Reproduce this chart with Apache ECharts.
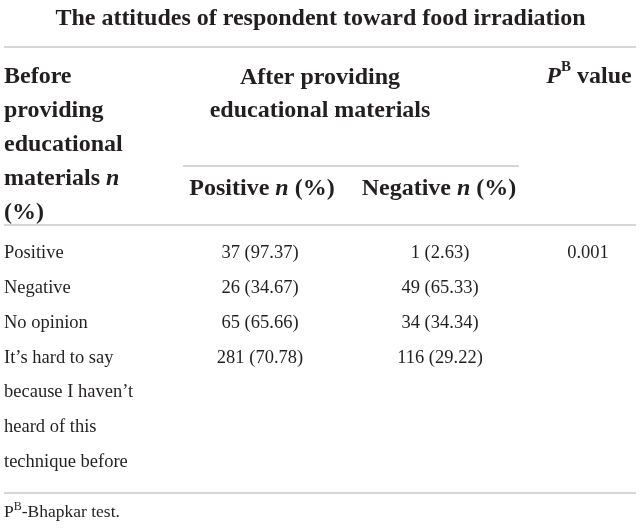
<!DOCTYPE html>
<html>
<head>
<meta charset="utf-8">
<title>Attitudes toward food irradiation</title>
<script src="https://cdn.jsdelivr.net/npm/echarts@6/dist/echarts.min.js"></script>
<style>
html, body { margin: 0; padding: 0; background: #fff; }
#main { width: 641px; height: 531px; }
</style>
</head>
<body>
<div id="main"></div>
<script>
// table values
var rowLabels = ['Positive', 'Negative', 'No opinion',
    'It\u2019s hard to say\nbecause I haven\u2019t\nheard of this\ntechnique before'];
var positiveN = [37, 26, 65, 281];
var positivePct = [97.37, 34.67, 65.66, 70.78];
var negativeN = [1, 49, 34, 116];
var negativePct = [2.63, 65.33, 34.34, 29.22];
var pValues = ['0.001', '', '', ''];

var FONT = '"Liberation Serif", "Times New Roman", serif';
var INK = '#231f20';
var RULE = '#c8c8c8';
var colX = [4, 260, 440, 588];

// first text line of every row (the last label wraps over several lines)
var lineStart = [];
var count = 0;
rowLabels.forEach(function (s) {
    lineStart.push(count);
    count += s.split('\n').length;
});
var totalLines = count;
var cellData = rowLabels.map(function (s, i) { return [0, lineStart[i], i]; });

function cell(n, pct) {
    return n + ' (' + pct.toFixed(2) + ')';
}

function renderRow(params, api) {
    var i = api.value(2);
    var top = api.coord([0, api.value(1) - 0.5])[1];
    var step = api.size([0, 1])[1];
    var base = {
        fontFamily: FONT, fontSize: 18.5, fill: INK,
        lineHeight: step, verticalAlign: 'top'
    };
    function txt(x, text, align) {
        return {
            type: 'text', x: x, y: top,
            style: Object.assign({}, base, { text: text, align: align })
        };
    }
    return {
        type: 'group',
        children: [
            txt(colX[0], rowLabels[i], 'left'),
            txt(colX[1], cell(positiveN[i], positivePct[i]), 'center'),
            txt(colX[2], cell(negativeN[i], negativePct[i]), 'center'),
            txt(colX[3], pValues[i], 'center')
        ]
    };
}

function rule(y, x1, x2) {
    return {
        type: 'line', silent: true,
        shape: { x1: x1, y1: y, x2: x2, y2: y },
        style: { stroke: RULE, lineWidth: 1.5 }
    };
}

var HEAD = 24;
var headStyle = { fontFamily: FONT, fontSize: HEAD, fontWeight: 'bold', fill: INK };
var richHead = {
    i: { fontFamily: FONT, fontSize: HEAD, fontWeight: 'bold', fontStyle: 'italic', fill: INK, lineHeight: 34 },
    sup: { fontFamily: FONT, fontSize: 15, fontWeight: 'bold', fill: INK, verticalAlign: 'top', lineHeight: 15 }
};

function head(x, y, text, align, vAlign, lineHeight) {
    return {
        type: 'text', x: x, y: y, silent: true,
        style: Object.assign({}, headStyle, {
            text: text, align: align, verticalAlign: vAlign,
            lineHeight: lineHeight || 28, rich: richHead
        })
    };
}

var chart = echarts.init(document.getElementById('main'));

var option = {
    backgroundColor: '#fff',
    animation: false,
    title: {
        text: 'The attitudes of respondent toward food irradiation',
        left: 'center',
        top: 2,
        textStyle: { fontFamily: FONT, fontSize: 24, fontWeight: 'bold', color: INK }
    },
    grid: { left: 0, right: 0, top: 236, height: 243.6 },
    xAxis: { type: 'value', min: 0, max: 1, show: false },
    yAxis: { type: 'value', inverse: true, min: -0.5, max: totalLines - 0.5, show: false },
    graphic: [
        rule(47, 4, 636),
        rule(166, 183, 519),
        rule(225, 4, 636),
        rule(493, 4, 636),
        head(4, 60, 'Before\nproviding\neducational\nmaterials {i|n}\n(%)', 'left', 'top', 34),
        head(320, 62, 'After providing\neducational materials', 'center', 'top', 32.5),
        head(262, 189, 'Positive {i|n} (%)', 'center', 'middle'),
        head(439, 189, 'Negative {i|n} (%)', 'center', 'middle'),
        head(589, 77, '{i|P}{sup|B} value', 'center', 'middle'),
        {
            type: 'text', x: 4, y: 512, silent: true,
            style: {
                text: 'P{sup|B}-Bhapkar test.',
                fontFamily: FONT, fontSize: 17.5, fill: INK,
                align: 'left', verticalAlign: 'middle', lineHeight: 22,
                rich: {
                    sup: { fontFamily: FONT, fontSize: 12, fill: INK, verticalAlign: 'top', lineHeight: 12 }
                }
            }
        }
    ],
    series: [{
        type: 'custom',
        silent: true,
        clip: false,
        renderItem: renderRow,
        data: cellData
    }]
};

chart.setOption(option);
</script>
</body>
</html>
